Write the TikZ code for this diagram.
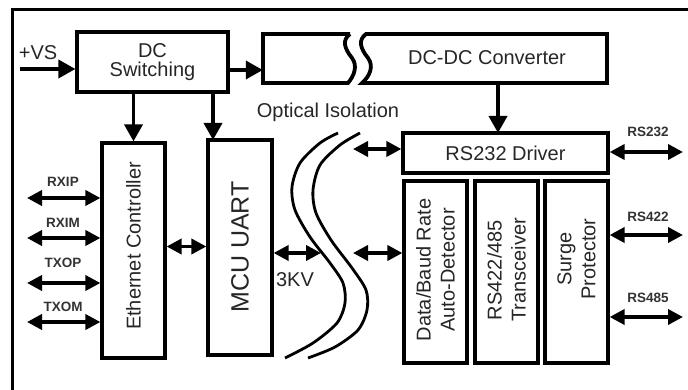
\documentclass[tikz,border=0pt]{standalone}
\usepackage{fontspec}
\setmainfont{Liberation Sans}
\usetikzlibrary{arrows.meta}
\begin{document}
\begin{tikzpicture}[x=1pt,y=-1pt,
  box/.style={draw, line width=3.2pt, inner sep=0pt, text=black!85},
  arr/.style={line width=3.6pt, -{Triangle[length=17pt,width=18pt]}},
  darr/.style={line width=3.6pt, {Triangle[length=15pt,width=15pt]}-{Triangle[length=15pt,width=15pt]}},
  big/.style={font=\fontsize{20}{19.5}\selectfont, text=black!85},
  vtext/.style={font=\fontsize{20}{24}\selectfont, text=black!85, rotate=90, align=center, inner sep=0pt},
  small/.style={font=\bfseries\fontsize{13.5}{15}\selectfont, text=black!80, inner sep=0pt},
  curve/.style={line width=2.8pt}
]
\useasboundingbox (0,0) rectangle (688,390);
% outer frame
\draw[line width=3pt] (12,392) -- (12,10) -- (690,10);

% boxes
\node[box, minimum width=151pt, minimum height=60pt, big, align=center] (sw) at (152.5,62) {DC\\Switching};
\node[inner sep=0pt, minimum width=344pt, minimum height=49pt] (dcdc) at (435,58.5) {};
\draw[line width=3.8pt, line join=miter]
  (350,34) -- (263,34) -- (263,83) -- (348,83)
  .. controls (354,76) and (358,66) .. (352,58)
  .. controls (344,48) and (342,40) .. (350,34);
\draw[line width=3.8pt, line join=miter]
  (366,34) .. controls (358,40) and (360,48) .. (368,58)
  .. controls (374,66) and (370,76) .. (362,83)
  -- (607,83) -- (607,34) -- cycle;
\node[big] (dcdct) at (487,58) {DC-DC Converter};

\node[box, minimum width=63pt, minimum height=215pt] (eth) at (133.5,250.5) {};
\node[vtext] (etht) at (133.5,246) {Ethernet Controller};
\node[box, minimum width=64pt, minimum height=215pt] (mcu) at (240,247.5) {};
\node[vtext, font=\fontsize{25}{28}\selectfont] (mcut) at (240,247) {MCU UART};

\node[box, minimum width=205pt, minimum height=40pt, big] (drv) at (505.5,153) {RS232 Driver};
\node[box, minimum width=63pt, minimum height=182pt] (det) at (435.5,272) {};
\node[vtext] (dett) at (435.5,270) {Data/Baud Rate\\Auto-Detector};
\node[box, minimum width=63pt, minimum height=182pt] (trx) at (506.5,272) {};
\node[vtext] (trxt) at (506.5,270) {RS422/485\\Transceiver};
\node[box, minimum width=63pt, minimum height=182pt] (srg) at (576.5,272) {};
\node[vtext] (srgt) at (576.5,259) {Surge\\Protector};

% isolation
\draw[curve] plot[smooth] coordinates {(338,133) (320,143) (300,163) (292,187) (295,210) (310,237) (330,263) (343,283) (345,303) (337,323) (313,343) (285,358)};
\draw[curve] plot[smooth] coordinates {(360,133) (340,145) (320,165) (313,190) (316,213) (331,240) (352,268) (366,290) (367,310) (358,330) (335,347) (308,358)};
\node[big] (opt) at (328,112) {Optical Isolation};
\node[big] (kv) at (295,280) {3KV};

% power arrows
\node[big] (vst) at (38,53) {+VS};
\coordinate (vs) at (20,69);
\draw[arr] (vs) -- (sw.west |- vs);
\draw[arr] ([yshift=-8pt]sw.east) -- ([yshift=-8pt]sw.east -| dcdc.west);
\draw[arr] (sw.south -| eth.north) -- (eth.north);
\coordinate (m1) at (213,140);
\draw[arr] (sw.south -| m1) -- (m1);
\coordinate (d1) at (498,133);
\draw[arr] (dcdc.south -| d1) -- (d1);

% data arrows
\draw[darr] ([yshift=4pt]eth.east) -- ([yshift=4pt]eth.east -| mcu.west);
\coordinate (i1) at (321,253);
\draw[darr] (mcu.east |- i1) -- (i1);
\coordinate (i2) at (353,149);
\draw[darr] (i2) -- (drv.west |- i2);
\coordinate (i3) at (353,253);
\draw[darr] (i3) -- (det.west |- i3);

% ethernet signals
\foreach \n/\t/\yl/\ya in {rxip/RXIP/182/198, rxim/RXIM/223/238, txop/TXOP/263/283, txom/TXOM/307/322}{
  \node[small] (\n t) at (63,\yl) {\t};
  \coordinate (\n) at (27,\ya);
  \draw[darr] (\n) -- (eth.west |- \n);
}
% serial outputs
\foreach \n/\t/\yl/\ya/\src in {rsa/RS232/132/152/drv, rsb/RS422/217/235/srg, rsc/RS485/298/317/srg}{
  \node[small] (\n t) at (648,\yl) {\t};
  \coordinate (\n) at (683,\ya);
  \draw[darr] (\src.east |- \n) -- (\n);
}
\end{tikzpicture}
\end{document}
